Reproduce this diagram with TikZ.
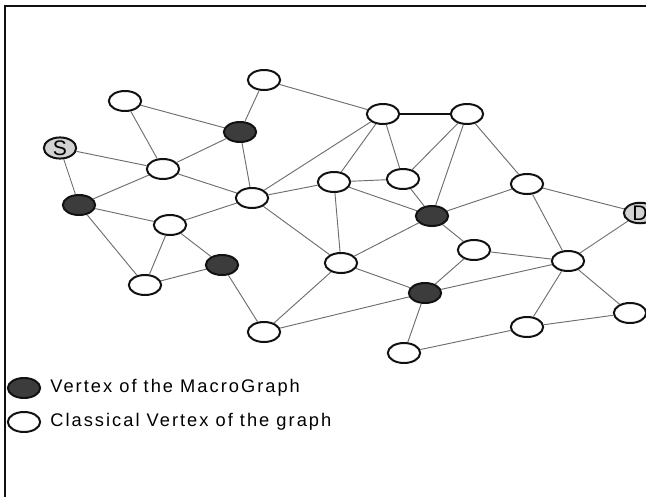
\documentclass[tikz,border=0pt]{standalone}
\usepackage{fontspec}
\usepackage{tikz}
\usetikzlibrary{shapes.geometric,positioning}
\newfontfamily\legendfont[LetterSpace=11]{Liberation Sans}
\newfontfamily\labelfont{Liberation Sans}
\definecolor{MGInk}{HTML}{111111}
\definecolor{MGEdge}{HTML}{6E6E6E}
\definecolor{MGDark}{HTML}{3C3C3C}
\definecolor{MGEnd}{HTML}{D2D2D2}

\begin{document}
\begin{tikzpicture}[
    x=0.03cm,y=-0.03cm,
    vert/.style={ellipse,draw=MGInk,line width=1.7pt,fill=white,
      minimum width=0.97cm,minimum height=0.6cm,inner sep=0pt},
    macro/.style={vert,fill=MGDark},
    endpt/.style={vert,fill=MGEnd,font=\labelfont\fontsize{18}{18}\selectfont},
    edge/.style={draw=MGEdge,line width=0.8pt},
    legtext/.style={font=\legendfont\fontsize{15.6}{18}\selectfont,inner sep=0pt}
  ]
  \path[use as bounding box] (0,0) rectangle (646,497);
  \draw[line width=1.6pt,draw=MGInk] (5,497) -- (5,6) -- (646,6);

  % end points
  \node[endpt] (s) at (60,148) {S};
  \node[endpt] (d) at (640,213) {D};

  % vertices of the macrograph
  \node[macro] (m1) at (240,132) {};
  \node[macro] (m2) at (79,205) {};
  \node[macro] (m3) at (222,265) {};
  \node[macro] (m4) at (432,216) {};
  \node[macro] (m5) at (425,293) {};

  % classical vertices
  \node[vert] (v1) at (264,80) {};
  \node[vert] (v2) at (125,101) {};
  \node[vert] (v3) at (163,169) {};
  \node[vert] (v4) at (252,198) {};
  \node[vert] (v5) at (170,225) {};
  \node[vert] (v6) at (145,285) {};
  \node[vert] (v7) at (383,114) {};
  \node[vert] (v8) at (467,114) {};
  \node[vert] (v9) at (334,182) {};
  \node[vert] (v10) at (403,179) {};
  \node[vert] (v11) at (527,184) {};
  \node[vert] (v12) at (474,250) {};
  \node[vert] (v13) at (341,263) {};
  \node[vert] (v14) at (568,261) {};
  \node[vert] (v15) at (264,332) {};
  \node[vert] (v16) at (404,353) {};
  \node[vert] (v17) at (527,327) {};
  \node[vert] (v18) at (630,313) {};

  % edges
  \draw[edge] (s) -- (v3) (s) -- (m2);
  \draw[edge] (v2) -- (m1) (v2) -- (v3);
  \draw[edge] (v1) -- (m1) (v1) -- (v7);
  \draw[edge] (v3) -- (m1) (v3) -- (m2) (v3) -- (v4);
  \draw[edge] (m1) -- (v4);
  \draw[edge] (m2) -- (v5) (m2) -- (v6);
  \draw[edge] (v5) -- (v4) (v5) -- (v6) (v5) -- (m3);
  \draw[edge] (m3) -- (v6) (m3) -- (v15);
  \draw[edge] (v4) -- (v9) (v4) -- (v7) (v4) -- (v13);
  \draw[line width=1pt,draw=MGInk] (v7) -- (v8);
  \draw[edge] (v7) -- (v9) (v7) -- (v10);
  \draw[edge] (v8) -- (v10) (v8) -- (m4) (v8) -- (v11);
  \draw[edge] (v9) -- (v10) (v9) -- (m4) (v9) -- (v13);
  \draw[edge] (v10) -- (m4);
  \draw[edge] (m4) -- (v11) (m4) -- (v12) (m4) -- (v13);
  \draw[edge] (v11) -- (d) (v11) -- (v14);
  \draw[edge] (d) -- (v14);
  \draw[edge] (v13) -- (v15) (v13) -- (m5);
  \draw[edge] (v12) -- (v14) (v12) -- (m5);
  \draw[edge] (m5) -- (v14) (m5) -- (v15) (m5) -- (v16);
  \draw[edge] (v16) -- (v17);
  \draw[edge] (v17) -- (v14) (v17) -- (v18);
  \draw[edge] (v14) -- (v18);

  % legend
  \node[macro] (legm) at (24,388) {};
  \node[vert] (legv) at (24,422) {};
  \node[legtext,right=0.27cm of legm] (legmtext) {Vertex of the MacroGraph};
  \node[legtext,right=0.27cm of legv] (legvtext) {Classical Vertex of the graph};
\end{tikzpicture}
\end{document}
